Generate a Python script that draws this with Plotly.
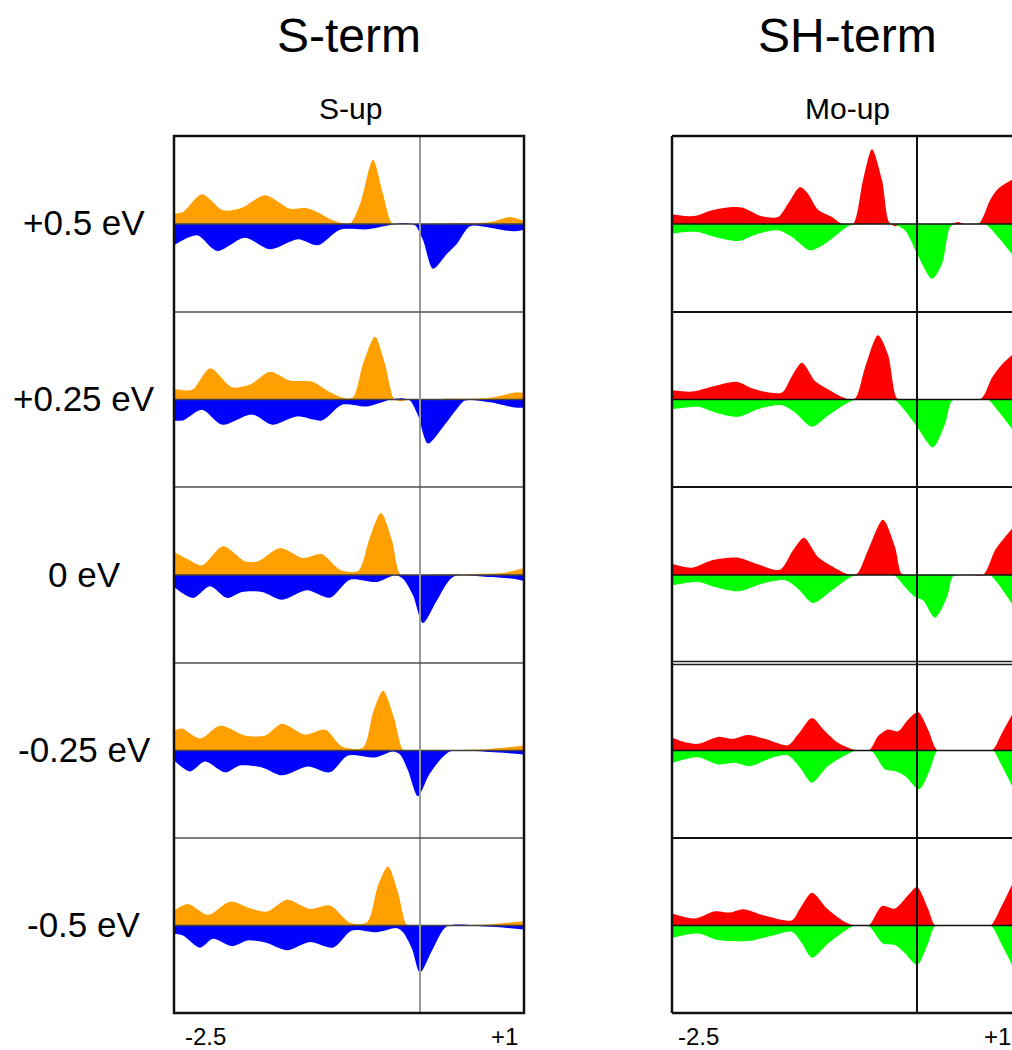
import plotly.graph_objects as go

# ---------------------------------------------------------------- text
COLUMN_TITLES = ["S-term", "SH-term"]
PANEL_TITLES = ["S-up", "Mo-up"]
ROW_LABELS = ["+0.5 eV", "+0.25 eV", "0 eV", "-0.25 eV", "-0.5 eV"]
X_TICK_LABELS = ["-2.5", "+1"]

# ---------------------------------------------------------------- S-term (orange = positive, blue = negative)
S_POS_1_X = [-2.46, -2.37, -2.18, -1.97, -1.78, -1.55, -1.30, -1.15, -1.03, -0.87, -0.70, -0.60, -0.47, -0.37, -0.28, -0.20, 0.0, 0.40, 0.70, 0.90, 1.04]
S_POS_1_Y = [10.3, 12.0, 29.7, 13.7, 16.3, 28.7, 15.3, 16.3, 12.0, 3.7, 0.7, 20.0, 64.3, 30.0, 1.0, 0.0, 0.0, 1.0, 1.7, 7.0, 3.0]
S_NEG_1_X = [-2.46, -2.23, -2.03, -1.75, -1.50, -1.22, -1.02, -0.80, -0.53, -0.30, -0.17, -0.05, 0.03, 0.13, 0.27, 0.37, 0.50, 0.70, 0.93, 1.04]
S_NEG_1_Y = [-21.3, -11.3, -27.0, -13.7, -25.3, -15.3, -21.3, -5.7, -5.3, -1.0, 1.0, -1.3, -16.0, -44.7, -29.7, -19.7, -2.3, -3.7, -7.3, -5.7]

S_POS_2_X = [-2.46, -2.28, -2.10, -1.88, -1.70, -1.50, -1.30, -1.08, -0.93, -0.77, -0.67, -0.57, -0.45, -0.35, -0.26, -0.20, -0.10, 0.20, 0.70, 0.97, 1.04]
S_POS_2_Y = [10.7, 9.7, 31.3, 12.3, 15.0, 28.0, 19.0, 18.0, 9.0, 1.7, 2.3, 35.7, 63.0, 35.7, 0.7, -1.7, 0.0, 0.5, 1.7, 7.3, 6.3]
S_NEG_2_X = [-2.46, -2.37, -2.18, -1.98, -1.68, -1.48, -1.23, -0.98, -0.78, -0.53, -0.30, -0.18, -0.10, -0.02, 0.08, 0.23, 0.37, 0.45, 0.70, 0.93, 1.04]
S_NEG_2_Y = [-21.0, -21.0, -10.3, -25.3, -15.0, -25.3, -17.0, -21.0, -5.3, -7.0, -0.3, 1.3, -1.0, -16.0, -44.3, -27.7, -9.3, -1.0, -2.7, -7.7, -8.3]

S_POS_3_X = [-2.46, -2.33, -2.18, -1.97, -1.75, -1.62, -1.40, -1.17, -0.98, -0.80, -0.62, -0.50, -0.39, -0.28, -0.20, -0.10, 0.03, 0.43, 0.83, 1.04]
S_POS_3_Y = [23.0, 16.3, 9.7, 28.7, 13.7, 13.7, 27.0, 17.0, 20.7, 5.3, 4.0, 38.0, 62.0, 34.7, 1.3, -1.7, 0.0, 1.0, 2.0, 7.0]
S_NEG_3_X = [-2.46, -2.27, -2.10, -1.93, -1.78, -1.58, -1.38, -1.13, -0.90, -0.70, -0.43, -0.25, -0.17, -0.07, 0.03, 0.17, 0.33, 0.67, 0.93, 1.04]
S_NEG_3_Y = [-12.0, -23.0, -11.3, -23.0, -17.0, -17.0, -24.7, -15.3, -22.7, -4.7, -7.0, -0.3, -3.7, -20.3, -48.0, -25.3, -2.0, -2.0, -3.7, -6.0]

S_POS_4_X = [-2.46, -2.38, -2.20, -2.00, -1.75, -1.55, -1.38, -1.15, -0.95, -0.78, -0.57, -0.47, -0.37, -0.26, -0.17, -0.08, 0.20, 0.70, 1.04]
S_POS_4_Y = [20.0, 22.0, 12.0, 25.0, 15.0, 15.0, 27.0, 16.0, 21.0, 4.0, 3.0, 38.0, 60.0, 33.0, 1.0, -2.0, 0.0, 1.5, 5.0]
S_NEG_4_X = [-2.46, -2.30, -2.15, -1.95, -1.80, -1.58, -1.38, -1.12, -0.90, -0.72, -0.45, -0.27, -0.20, -0.12, -0.02, 0.10, 0.30, 0.70, 1.04]
S_NEG_4_Y = [-10.0, -21.0, -11.0, -22.0, -15.0, -17.0, -25.0, -16.0, -22.0, -5.0, -7.0, -1.0, -4.0, -20.0, -46.0, -23.0, -1.0, -1.5, -4.0]

S_POS_5_X = [-2.46, -2.32, -2.12, -1.90, -1.70, -1.53, -1.33, -1.10, -0.90, -0.70, -0.53, -0.42, -0.32, -0.22, -0.13, -0.03, 0.27, 0.67, 1.04]
S_POS_5_Y = [15.0, 21.7, 10.7, 24.0, 17.3, 14.0, 26.0, 16.7, 20.0, 2.7, 3.3, 40.0, 59.3, 33.3, 0.7, -2.0, 0.0, 1.0, 4.3]
S_NEG_5_X = [-2.46, -2.37, -2.20, -2.07, -1.88, -1.72, -1.53, -1.33, -1.10, -0.87, -0.68, -0.43, -0.23, -0.17, -0.08, 0.00, 0.13, 0.27, 0.67, 1.04]
S_NEG_5_Y = [-8.3, -10.0, -22.3, -13.3, -20.7, -15.0, -17.7, -25.0, -16.7, -22.3, -5.0, -6.7, -2.7, -6.7, -23.3, -47.3, -23.3, -0.7, -1.0, -4.0]

# ---------------------------------------------------------------- SH-term (red = positive, green = negative)
M_POS_1_X = [-2.45, -2.29, -2.19, -2.05, -1.85, -1.74, -1.55, -1.39, -1.29, -1.17, -1.09, -0.99, -0.85, -0.75, -0.64, -0.54, -0.45, -0.35, -0.28, -0.22, -0.15, -0.05, 0.10, 0.25, 0.35, 0.41, 0.47, 0.55, 0.62, 0.67, 0.73, 0.81, 0.95]
M_POS_1_Y = [9.7, 7.7, 8.7, 13.7, 17.0, 16.3, 7.7, 7.0, 20.3, 37.0, 30.3, 14.3, 7.0, 0.3, 0.0, 43.7, 74.7, 43.7, 2.0, -2.3, 0.0, 0.0, 0.0, 0.0, 0.0, 2.0, 0.0, 0.0, 0.5, 9.0, 23.7, 35.3, 44.3]
M_NEG_1_X = [-2.45, -2.32, -2.19, -2.02, -1.79, -1.59, -1.39, -1.25, -1.07, -0.92, -0.79, -0.67, -0.55, -0.40, -0.25, -0.12, 0.00, 0.15, 0.25, 0.33, 0.38, 0.48, 0.58, 0.68, 0.81, 0.95]
M_NEG_1_Y = [-9.7, -8.0, -8.0, -13.0, -17.0, -9.7, -6.3, -13.0, -26.3, -19.7, -9.7, -1.3, 0.0, 0.0, 0.0, -6.3, -29.7, -54.7, -39.7, -3.0, 0.0, 0.0, 0.0, 0.0, -13.0, -30.3]

M_POS_2_X = [-2.45, -2.25, -2.02, -1.80, -1.65, -1.52, -1.35, -1.25, -1.15, -1.02, -0.89, -0.72, -0.62, -0.52, -0.39, -0.29, -0.20, -0.12, 0.00, 0.20, 0.40, 0.55, 0.63, 0.68, 0.75, 0.85, 0.95]
M_POS_2_Y = [9.3, 8.0, 13.7, 17.7, 11.3, 7.7, 7.0, 23.7, 37.0, 18.7, 10.3, 1.3, 1.0, 32.0, 64.7, 45.3, 1.3, 0.0, 0.0, 0.0, 0.0, 0.0, 0.0, 6.0, 22.0, 35.3, 44.7]
M_NEG_2_X = [-2.45, -2.19, -2.02, -1.79, -1.59, -1.35, -1.22, -1.05, -0.89, -0.65, -0.50, -0.35, -0.22, -0.12, 0.00, 0.16, 0.28, 0.35, 0.45, 0.55, 0.65, 0.71, 0.81, 0.95]
M_NEG_2_Y = [-9.7, -7.3, -13.0, -17.3, -9.7, -5.7, -13.0, -27.3, -16.3, -1.3, 0.0, 0.0, -0.7, -11.3, -27.3, -48.0, -24.7, -1.3, 0.0, 0.0, 0.0, 0.0, -11.3, -29.7]

M_POS_3_X = [-2.45, -2.25, -2.05, -1.79, -1.59, -1.37, -1.24, -1.13, -0.99, -0.85, -0.69, -0.60, -0.49, -0.34, -0.22, -0.15, -0.05, 0.10, 0.25, 0.40, 0.55, 0.66, 0.72, 0.78, 0.95]
M_POS_3_Y = [11.3, 7.3, 14.7, 17.3, 10.7, 5.3, 24.7, 37.3, 18.0, 8.7, 0.7, 1.3, 24.7, 55.3, 28.0, 0.7, 0.0, 0.0, 0.0, 0.0, 0.0, 0.0, 10.0, 24.7, 46.3]
M_NEG_3_X = [-2.45, -2.19, -2.02, -1.79, -1.55, -1.32, -1.19, -1.04, -0.85, -0.64, -0.50, -0.35, -0.22, -0.12, -0.02, 0.06, 0.18, 0.30, 0.36, 0.45, 0.55, 0.65, 0.73, 0.81, 0.95]
M_NEG_3_Y = [-10.3, -7.0, -12.0, -16.3, -8.7, -5.3, -13.7, -28.0, -15.3, -1.0, 0.0, 0.0, -1.0, -12.0, -22.0, -25.3, -42.7, -22.0, -1.3, 0.0, 0.0, 0.0, 0.0, -8.7, -28.7]

M_POS_4_X = [-2.45, -2.32, -2.19, -1.99, -1.85, -1.69, -1.52, -1.29, -1.19, -1.05, -0.92, -0.79, -0.64, -0.55, -0.47, -0.39, -0.29, -0.19, -0.09, 0.01, 0.11, 0.20, 0.30, 0.45, 0.60, 0.70, 0.76, 0.85, 0.95]
M_POS_4_Y = [12.7, 8.3, 6.7, 13.7, 11.7, 15.7, 11.7, 5.3, 16.0, 32.7, 19.3, 7.7, 1.0, 0.0, 1.0, 14.3, 21.0, 19.3, 31.0, 38.7, 21.0, 0.5, 0.0, 0.0, 0.0, 0.0, 1.0, 17.7, 36.0]
M_NEG_4_X = [-2.45, -2.19, -1.99, -1.82, -1.67, -1.45, -1.29, -1.17, -1.05, -0.89, -0.64, -0.55, -0.45, -0.32, -0.22, -0.12, 0.02, 0.13, 0.20, 0.30, 0.45, 0.60, 0.70, 0.76, 0.85, 0.95]
M_NEG_4_Y = [-12.3, -6.7, -14.0, -12.3, -15.7, -7.3, -5.0, -17.3, -32.3, -15.7, -1.0, 0.0, -1.0, -19.0, -20.7, -25.7, -39.0, -19.0, -0.7, 0.0, 0.0, 0.0, 0.0, 0.0, -15.7, -35.7]

M_POS_5_X = [-2.45, -2.22, -2.02, -1.87, -1.74, -1.52, -1.25, -1.17, -1.05, -0.90, -0.75, -0.64, -0.56, -0.48, -0.35, -0.22, -0.09, 0.00, 0.11, 0.18, 0.30, 0.45, 0.60, 0.68, 0.74, 0.85, 0.95]
M_POS_5_Y = [12.0, 7.0, 14.3, 13.0, 16.3, 9.7, 5.3, 17.0, 33.0, 17.0, 5.3, 0.3, 0.0, 0.3, 19.7, 17.0, 30.3, 38.7, 17.0, 0.3, 0.0, 0.0, 0.0, 0.0, 0.3, 20.3, 41.0]
M_NEG_5_X = [-2.45, -2.19, -1.99, -1.69, -1.45, -1.25, -1.15, -1.05, -0.89, -0.64, -0.56, -0.48, -0.34, -0.22, -0.12, 0.00, 0.11, 0.18, 0.30, 0.45, 0.60, 0.68, 0.74, 0.85, 0.95]
M_NEG_5_Y = [-12.3, -8.0, -14.7, -15.7, -10.3, -6.3, -18.0, -32.3, -18.0, -0.7, 0.0, -0.7, -18.0, -19.7, -28.0, -39.7, -18.0, -0.7, 0.0, 0.0, 0.0, 0.0, 0.0, -19.7, -39.7]

S_ROWS = [
    (S_POS_1_X, S_POS_1_Y, S_NEG_1_X, S_NEG_1_Y),
    (S_POS_2_X, S_POS_2_Y, S_NEG_2_X, S_NEG_2_Y),
    (S_POS_3_X, S_POS_3_Y, S_NEG_3_X, S_NEG_3_Y),
    (S_POS_4_X, S_POS_4_Y, S_NEG_4_X, S_NEG_4_Y),
    (S_POS_5_X, S_POS_5_Y, S_NEG_5_X, S_NEG_5_Y),
]
M_ROWS = [
    (M_POS_1_X, M_POS_1_Y, M_NEG_1_X, M_NEG_1_Y),
    (M_POS_2_X, M_POS_2_Y, M_NEG_2_X, M_NEG_2_Y),
    (M_POS_3_X, M_POS_3_Y, M_NEG_3_X, M_NEG_3_Y),
    (M_POS_4_X, M_POS_4_Y, M_NEG_4_X, M_NEG_4_Y),
    (M_POS_5_X, M_POS_5_Y, M_NEG_5_X, M_NEG_5_Y),
]

# ---------------------------------------------------------------- layout helpers
W, H = 1012, 1050
FONT = "Arial, 'Liberation Sans', sans-serif"


def px(x):
    return x / W


def py(y):
    return 1 - y / H


ROW_EDGES = [136, 312, 487, 663, 838, 1013]
COLS = [
    dict(x0=174, x1=524, xr=[-2.46, 1.04], pos="#FFA000", neg="#0000FF",
         rows=S_ROWS, vline="#9a9a9a", base="#404040"),
    dict(x0=672, x1=1012, xr=[-2.45, 0.95], pos="#FF0000", neg="#00FF00",
         rows=M_ROWS, vline="#111111", base="#111111"),
]

fig = go.Figure()
layout = dict(width=W, height=H, margin=dict(l=0, r=0, t=0, b=0),
              paper_bgcolor="white", plot_bgcolor="white", showlegend=False)
shapes = []

n = 0
for c, col in enumerate(COLS):
    for r in range(5):
        n += 1
        xa = "x" if n == 1 else f"x{n}"
        ya = "y" if n == 1 else f"y{n}"
        px_, py_, nx_, ny_ = col["rows"][r]
        fig.add_trace(go.Scatter(x=px_, y=py_, xaxis=xa, yaxis=ya, mode="lines",
                                 line=dict(width=0, shape="spline", smoothing=0.8),
                                 fill="tozeroy", fillcolor=col["pos"], hoverinfo="skip"))
        fig.add_trace(go.Scatter(x=nx_, y=ny_, xaxis=xa, yaxis=ya, mode="lines",
                                 line=dict(width=0, shape="spline", smoothing=0.8),
                                 fill="tozeroy", fillcolor=col["neg"], hoverinfo="skip"))
        xkey = "xaxis" if n == 1 else f"xaxis{n}"
        ykey = "yaxis" if n == 1 else f"yaxis{n}"
        layout[xkey] = dict(domain=[px(col["x0"]), px(col["x1"])], range=col["xr"],
                            visible=False, anchor=ya, fixedrange=True)
        layout[ykey] = dict(domain=[py(ROW_EDGES[r + 1]), py(ROW_EDGES[r])], range=[-88, 88],
                            visible=False, anchor=xa, fixedrange=True)
        # zero line and Fermi level line
        shapes.append(dict(type="line", xref=f"{xa} domain", yref=ya, x0=0, x1=1, y0=0, y1=0,
                           line=dict(color=col["base"], width=1.3), layer="above"))
        shapes.append(dict(type="line", xref=xa, yref=f"{ya} domain", x0=0, x1=0, y0=0, y1=1,
                           line=dict(color=col["vline"], width=2), layer="above"))

# borders of left column
for yy in ROW_EDGES[1:-1]:
    shapes.append(dict(type="line", xref="paper", yref="paper", x0=px(174), x1=px(524),
                       y0=py(yy), y1=py(yy), line=dict(color="#505050", width=1.5), layer="above"))
shapes.append(dict(type="rect", xref="paper", yref="paper", x0=px(174), x1=px(524),
                   y0=py(1013), y1=py(136), line=dict(color="#111111", width=2.5), layer="above"))

# borders of right column (cut by the page edge on the right)
for yy in ROW_EDGES[1:-1]:
    if yy == 663:
        for d in (-1.5, 1.5):
            shapes.append(dict(type="line", xref="paper", yref="paper", x0=px(672), x1=1,
                               y0=py(yy + d), y1=py(yy + d), line=dict(color="#222222", width=1.5),
                               layer="above"))
    else:
        shapes.append(dict(type="line", xref="paper", yref="paper", x0=px(672), x1=1,
                           y0=py(yy), y1=py(yy), line=dict(color="#111111", width=2.2), layer="above"))
for yy in (136, 1013):
    shapes.append(dict(type="line", xref="paper", yref="paper", x0=px(672), x1=1,
                       y0=py(yy), y1=py(yy), line=dict(color="#111111", width=2.5), layer="above"))
shapes.append(dict(type="line", xref="paper", yref="paper", x0=px(672), x1=px(672),
                   y0=py(1013), y1=py(136), line=dict(color="#111111", width=2.5), layer="above"))

layout["shapes"] = shapes

# text
ann = []
ann.append(dict(text=COLUMN_TITLES[0], x=px(349), y=py(36), xref="paper", yref="paper",
                showarrow=False, xanchor="center", yanchor="middle", font=dict(size=48, color="black", family=FONT)))
ann.append(dict(text=COLUMN_TITLES[1], x=px(847), y=py(36), xref="paper", yref="paper",
                showarrow=False, xanchor="center", yanchor="middle", font=dict(size=48, color="black", family=FONT)))
ann.append(dict(text=PANEL_TITLES[0], x=px(350), y=py(109), xref="paper", yref="paper",
                showarrow=False, xanchor="center", yanchor="middle", font=dict(size=30, color="black", family=FONT)))
ann.append(dict(text=PANEL_TITLES[1], x=px(847), y=py(109), xref="paper", yref="paper",
                showarrow=False, xanchor="center", yanchor="middle", font=dict(size=30, color="black", family=FONT)))
for r, lab in enumerate(ROW_LABELS):
    yc = (ROW_EDGES[r] + ROW_EDGES[r + 1]) / 2 - 1
    ann.append(dict(text=lab, x=px(84), y=py(yc), xref="paper", yref="paper",
                    showarrow=False, xanchor="center", yanchor="middle", font=dict(size=35, color="black", family=FONT)))
for xc in (205, 698):
    ann.append(dict(text=X_TICK_LABELS[0], x=px(xc), y=py(1036), xref="paper", yref="paper",
                    showarrow=False, xanchor="center", yanchor="middle", font=dict(size=24, color="black", family=FONT)))
for xc in (504, 997):
    ann.append(dict(text=X_TICK_LABELS[1], x=px(xc), y=py(1036), xref="paper", yref="paper",
                    showarrow=False, xanchor="center", yanchor="middle", font=dict(size=24, color="black", family=FONT)))
layout["annotations"] = ann

fig.update_layout(**layout)
fig.write_html("out.html")
